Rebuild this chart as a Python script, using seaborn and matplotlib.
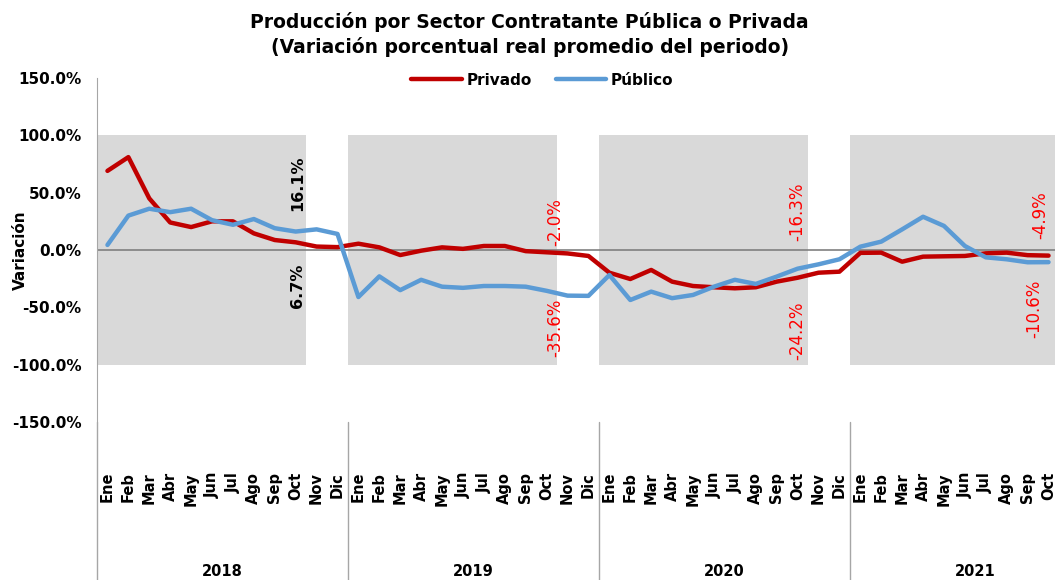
import pandas as pd
import matplotlib
matplotlib.use("Agg")
import matplotlib.pyplot as plt
import matplotlib.transforms as mtransforms
from matplotlib.patches import Rectangle
from matplotlib.ticker import FuncFormatter
import seaborn as sns

# ------------------------------
# Data (variación % real promedio del periodo)
# ------------------------------
years = ["2018", "2019", "2020", "2021"]
months = ["Ene", "Feb", "Mar", "Abr", "May", "Jun", "Jul", "Ago", "Sep", "Oct", "Nov", "Dic"]
n_months = [12, 12, 12, 10]

privado = [69, 81, 45, 24, 20, 25, 25, 14.5, 8.7, 6.7, 3, 2.5,
           5.5, 2.3, -4.4, -0.6, 2.3, 1, 3.5, 3.5, -1, -2.0, -3, -5.2,
           -19.8, -25.3, -17.4, -27.6, -31.4, -32.5, -33.4, -32.5, -27.6, -24.2, -19.8, -18.9,
           -2.5, -2.3, -10.2, -5.8, -5.5, -5.2, -2.9, -2.3, -4.5, -4.9]
publico = [4.4, 30, 36, 33, 36, 26, 22, 27, 19, 16.1, 18, 14,
           -41, -23, -35, -26, -32, -33, -31.4, -31.4, -32, -35.6, -39.8, -40,
           -21.8, -43.6, -36.3, -42, -39.2, -32, -26, -29.6, -23.2, -16.3, -12.5, -8.1,
           2.9, 7.3, 18, 29, 21, 3.5, -6.4, -8.1, -10.7, -10.6]

# etiquetas de Octubre: (texto, y, color, peso)
oct_labels = [("16.1%", 58, "black", "bold"), ("6.7%", -31, "black", "bold"),
              ("-2.0%", 24, "red", "normal"), ("-35.6%", -68, "red", "normal"),
              ("-16.3%", 33, "red", "normal"), ("-24.2%", -70, "red", "normal"),
              ("-4.9%", 30, "red", "normal"), ("-10.6%", -51, "red", "normal")]
oct_label_x = [9.1, 9.1, 21.4, 21.4, 33.0, 33.0, 44.6, 44.3]

# ------------------------------
# Build long table
# ------------------------------
month_labels = [m for n in n_months for m in months[:n]]
idx = list(range(len(privado)))
df = pd.DataFrame({
    "idx": idx * 2,
    "valor": privado + publico,
    "sector": ["Privado"] * len(privado) + ["Público"] * len(publico),
})

# ------------------------------
# Plot
# ------------------------------
sns.set_style("white")
plt.rcParams["font.family"] = ["DejaVu Sans"]
plt.rcParams["text.color"] = "black"
plt.rcParams["axes.labelcolor"] = "black"
plt.rcParams["xtick.labelcolor"] = "black"
plt.rcParams["ytick.labelcolor"] = "black"

fig = plt.figure(figsize=(10.55, 5.8), dpi=100)
ax = fig.add_axes([97 / 1055, 158 / 580, 962 / 1055, 344 / 580])

# shaded year blocks Ene-Oct
for i in range(len(years)):
    ax.add_patch(Rectangle((i * 12 - 0.5, -100), 10, 200, color="#D9D9D9", lw=0, zorder=0))

ax.axhline(0, color="#808080", lw=1.2, zorder=1)

sns.lineplot(data=df, x="idx", y="valor", hue="sector",
             palette={"Privado": "#C00000", "Público": "#5B9BD5"},
             lw=3.2, ax=ax, zorder=3)

ax.set_xlim(-0.5, len(privado) - 0.5)
ax.set_ylim(-150, 150)
ax.set_yticks([-150, -100, -50, 0, 50, 100, 150])
ax.yaxis.set_major_formatter(FuncFormatter(lambda v, p: f"{v:.1f}%"))
ax.tick_params(axis="y", length=5, color="#A6A6A6", labelsize=11, pad=6)
for t in ax.get_yticklabels():
    t.set_fontweight("bold")

ax.set_xticks(idx)
ax.set_xticklabels(month_labels, rotation=90, fontsize=10.5, fontweight="bold")
ax.tick_params(axis="x", length=0, pad=36)
ax.set_xlabel("")
ax.set_ylabel("Variación", fontsize=11, fontweight="bold", labelpad=2)
ax.yaxis.set_label_coords(-0.072, 0.5)

for s in ["top", "right", "bottom"]:
    ax.spines[s].set_visible(False)
ax.spines["left"].set_color("#A6A6A6")

# year separators and year labels
trans = mtransforms.blended_transform_factory(ax.transData, ax.transAxes)
for i, yr in enumerate(years):
    ax.plot([i * 12 - 0.5, i * 12 - 0.5], [0, -0.46], color="#A6A6A6", lw=1,
            transform=trans, clip_on=False)
    ax.text(i * 12 + 5.5, -0.436, yr, transform=trans, ha="center", va="center",
            fontsize=10.5, fontweight="bold")

# October annotations
for (txt, yv, col, wt), xv in zip(oct_labels, oct_label_x):
    ax.text(xv, yv, txt, rotation=90, ha="center", va="center", color=col,
            fontweight=wt, fontsize=11.5 if wt == "bold" else 12, zorder=4)

ax.legend(loc="center", bbox_to_anchor=(0.514, 0.862), bbox_transform=fig.transFigure,
          ncol=2, frameon=False, handlelength=3.3, columnspacing=1.6, handletextpad=0.3,
          prop={"weight": "bold", "size": 11})

fig.text(0.502, 0.941, "Producción por Sector Contratante Pública o Privada\n"
         "(Variación porcentual real promedio del periodo)",
         ha="center", va="center", fontsize=13.5, fontweight="bold", linespacing=1.3)

fig.savefig("out.png", dpi=100)
